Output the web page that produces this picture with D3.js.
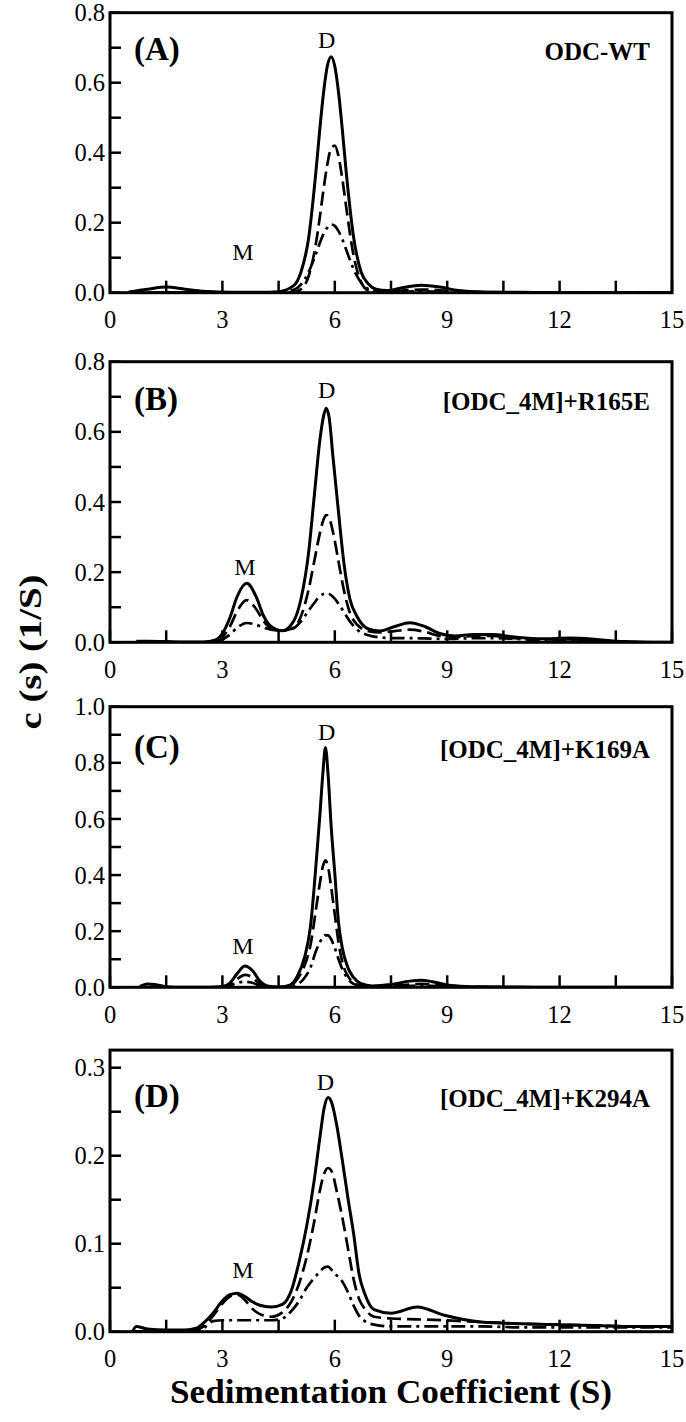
<!DOCTYPE html>
<html><head><meta charset="utf-8">
<script src="https://cdn.jsdelivr.net/npm/d3@7"></script>
<style>body{margin:0;background:#fff} svg{display:block}</style>
</head><body>
<svg id="chart" width="686" height="1422"></svg>
<script>
// ---------- data ----------
const panelLetters = ["(A)", "(B)", "(C)", "(D)"];
const panelNames = ["ODC-WT", "[ODC_4M]+R165E", "[ODC_4M]+K169A", "[ODC_4M]+K294A"];
const yMaxes = [0.8, 0.8, 1.0, 0.32];
const yTickLabelsA = [0, 0.2, 0.4, 0.6, 0.8];
const yTickLabelsC = [0, 0.2, 0.4, 0.6, 0.8, 1.0];
const yTickLabelsD = [0, 0.1, 0.2, 0.3];
const yMinorA = [0.1, 0.3, 0.5, 0.7];
const yMinorC = [0.1, 0.3, 0.5, 0.7, 0.9];
const yMinorD = [0.05, 0.15, 0.25];
const xTickLabels = [0, 3, 6, 9, 12, 15];
const xMinorTicks = [1.5, 4.5, 7.5, 10.5, 13.5];
// peak annotations: [x, y] per panel
const dimerLabelPos = [[5.78, 0.699], [5.78, 0.697], [5.78, 0.881], [5.75, 0.275]];
const monomerLabelPos = [[3.55, 0.093], [3.6, 0.192], [3.55, 0.119], [3.55, 0.061]];

// Panel A
const sA = [0.5,1.0,1.5,2.0,2.5,3.0,3.5,4.0,4.5,4.9,5.1,5.3,5.5,5.6,5.7,5.8,5.9,6.0,6.1,6.2,6.3,6.5,6.7,6.9,7.1,7.4,7.8,8.3,8.8,9.3,10,11,12,13,14,15];
const solidA   = [0.002,0.01,0.016,0.01,0.004,0.002,0.001,0.001,0.003, 0.02,0.06,0.155,0.35, 0.467,0.572,0.647,0.674,0.647,0.572,0.467,0.35, 0.16,0.06,0.025,0.01, 0.006,0.014,0.021,0.016,0.006, 0.002,0.001,0,0,0,0];
const dashedA  = [0,0,0,0,0,0,0,0,0, 0.002,0.01,0.047,0.143, 0.216,0.296,0.366,0.412,0.420,0.389,0.326,0.248, 0.107,0.031,0.006,0.002, 0.003,0.006,0.009,0.007,0.003, 0.001,0,0,0,0,0];
const dashdotA = [0,0,0,0,0,0,0,0,0.001, 0.008,0.024,0.059,0.112, 0.142,0.168,0.186,0.195,0.191,0.176,0.153,0.124, 0.068,0.029,0.010,0.003, 0.002,0.003,0.004,0.003,0.002, 0.001,0,0,0,0,0];

// Panel B
const sB = [0.7,1.0,1.5,2.0,2.5, 2.8,3.0,3.2,3.4,3.65, 3.9,4.1,4.3,4.6, 4.9,5.1,5.3,5.45, 5.6,5.7,5.77,5.85,5.95, 6.1,6.25,6.4,6.6,6.9, 7.2,7.6,8.0,8.4,8.8, 9.2,9.7,10.2,10.8,11.5, 12.3,13,13.7,14.5,15];
const solidB   = [0.003,0.003,0.002,0.001,0.001, 0.006,0.025,0.07,0.132,0.168, 0.13,0.075,0.045,0.033, 0.06,0.125,0.255,0.415, 0.575,0.645,0.667,0.64,0.53, 0.37,0.22,0.125,0.072,0.038, 0.032,0.045,0.056,0.045,0.025, 0.018,0.022,0.022,0.015,0.01, 0.012,0.008,0.002,0,0];
const dashedB  = [0,0,0,0,0, 0.003,0.015,0.045,0.09,0.12, 0.095,0.06,0.04,0.033, 0.042,0.075,0.15,0.23, 0.31,0.35,0.363,0.355,0.315, 0.23,0.145,0.085,0.05,0.032, 0.028,0.032,0.036,0.03,0.018, 0.015,0.018,0.018,0.012,0.008, 0.008,0.005,0.001,0,0];
const dashdotB = [0,0,0,0,0, 0.002,0.008,0.022,0.042,0.055, 0.05,0.042,0.036,0.033, 0.04,0.06,0.09,0.112, 0.132,0.138,0.14,0.138,0.13, 0.11,0.085,0.06,0.036,0.02, 0.014,0.012,0.012,0.011,0.01, 0.01,0.012,0.012,0.01,0.006, 0.006,0.004,0.001,0,0];

// Panel C
const sC = [0.8,1.0,1.2,1.5,2.0, 2.5,2.8,3.0,3.2,3.4, 3.6,3.8,4.0,4.2,4.5, 4.8,5.0,5.2,5.35,5.5, 5.6,5.68,5.75,5.82,5.9, 6.0,6.1,6.2,6.35,6.5, 6.7,7.0,7.5,8.0,8.3, 8.6,9.0,9.5,10,11, 12,13,14,15];
const solidC   = [0.003,0.012,0.01,0.002,0, 0,0.001,0.003,0.015,0.05, 0.076,0.06,0.022,0.005,0.001, 0.008,0.04,0.11,0.216,0.44, 0.61,0.76,0.855,0.76,0.58, 0.406,0.23,0.14,0.07,0.035, 0.013,0.005,0.01,0.022,0.025, 0.02,0.008,0.003,0.002,0.001, 0,0,0,0];
const dashedC  = [0,0,0,0,0, 0,0,0.001,0.008,0.03, 0.044,0.035,0.012,0.002,0, 0.004,0.03,0.08,0.15,0.28, 0.37,0.43,0.452,0.43,0.36, 0.26,0.16,0.09,0.04,0.018, 0.006,0.003,0.005,0.01,0.012, 0.01,0.005,0.002,0.001,0, 0,0,0,0];
const dashdotC = [0,0,0,0,0, 0,0,0.001,0.006,0.016, 0.02,0.016,0.006,0.001,0, 0.002,0.01,0.035,0.07,0.13, 0.16,0.178,0.186,0.185,0.172, 0.14,0.10,0.065,0.03,0.012, 0.004,0.002,0.003,0.005,0.006, 0.005,0.003,0.001,0,0, 0,0,0,0];

// Panel D
const sD = [0.6,0.7,1.0,1.5,2.0, 2.3,2.5,2.75,3.0,3.2, 3.4,3.6,3.8,4.0,4.3, 4.6,4.85,5.05,5.25,5.45, 5.6,5.72,5.82,5.92,6.05, 6.2,6.35,6.5,6.65,6.8, 7.05,7.5,8.2,8.9,9.9, 11,12,13,14,15];
const solidD   = [0,0.006,0.003,0.002,0.002, 0.004,0.01,0.021,0.035,0.042, 0.0436,0.04,0.034,0.03,0.028, 0.031,0.048,0.08,0.12,0.172, 0.22,0.255,0.266,0.26,0.235, 0.195,0.152,0.112,0.065,0.043, 0.025,0.021,0.028,0.019,0.011, 0.009,0.008,0.007,0.006,0.006];
const dashedD  = [0,0,0,0,0, 0.002,0.006,0.018,0.032,0.04, 0.042,0.036,0.026,0.02,0.017, 0.022,0.035,0.055,0.085,0.125, 0.16,0.18,0.186,0.182,0.16, 0.13,0.095,0.06,0.037,0.026, 0.017,0.015,0.014,0.013,0.011, 0.009,0.008,0.007,0.006,0.006];
const dashdotD = [0,0,0,0,0, 0,0.004,0.012,0.013,0.013, 0.013,0.013,0.013,0.013,0.013, 0.015,0.024,0.035,0.05,0.061, 0.068,0.073,0.074,0.07,0.064, 0.057,0.045,0.03,0.018,0.012, 0.008,0.006,0.006,0.006,0.006, 0.005,0.005,0.005,0.005,0.005];

const xTitle = "Sedimentation Coefficient (S)";
const yTitle = "c (s) (1/S)";

// ---------- layout ----------
const left = 110, right = 672;
const panelTops = [12.7, 361.7, 706.7, 1050.1];
const panelBottoms = [292.7, 642.3, 987.3, 1331.7];
const nameBaselines = [60, 410, 758, 1107];

const panels = [
  {s: sA, series: [solidA, dashedA, dashdotA], ticks: yTickLabelsA, minor: yMinorA},
  {s: sB, series: [solidB, dashedB, dashdotB], ticks: yTickLabelsA, minor: yMinorA},
  {s: sC, series: [solidC, dashedC, dashdotC], ticks: yTickLabelsC, minor: yMinorC},
  {s: sD, series: [solidD, dashedD, dashdotD], ticks: yTickLabelsD, minor: yMinorD}
];
const dashes = [null, "14,6", "14,5,3,5"];
const serif = "'Liberation Serif', 'Times New Roman', serif";

const svg = d3.select("#chart");
const x = d3.scaleLinear().domain([0, 15]).range([left, right]);

panels.forEach((p, i) => {
  const y = d3.scaleLinear().domain([0, yMaxes[i]]).range([panelBottoms[i], panelTops[i]]);
  const g = svg.append("g");
  const clipId = "clip" + i;
  svg.append("clipPath").attr("id", clipId).append("rect")
    .attr("x", left).attr("y", panelTops[i]).attr("width", right - left).attr("height", panelBottoms[i] - panelTops[i]);

  const line = d3.line().x(d => x(d[0])).y(d => y(d[1])).curve(d3.curveMonotoneX);
  p.series.forEach((vals, k) => {
    const pts = p.s.map((sv, j) => [sv, vals[j]]);
    g.append("path").attr("d", line(pts)).attr("fill", "none").attr("stroke", "#000")
      .attr("stroke-width", k === 0 ? 3 : 2.7)
      .attr("stroke-dasharray", dashes[k]).attr("clip-path", `url(#${clipId})`);
  });

  // y ticks (inward)
  const yAll = p.ticks.concat(p.minor);
  g.selectAll(".yt").data(yAll).enter().append("line")
    .attr("x1", left).attr("x2", left + 11).attr("y1", d => y(d)).attr("y2", d => y(d))
    .attr("stroke", "#000").attr("stroke-width", 2.5);
  g.selectAll(".yl").data(p.ticks).enter().append("text")
    .attr("x", left - 5).attr("y", d => y(d)).attr("dy", "0.35em")
    .attr("text-anchor", "end").attr("font-family", serif).attr("font-size", 24.5)
    .text(d => d3.format(".1f")(d));
  // x ticks
  const xAll = xTickLabels.concat(xMinorTicks);
  g.selectAll(".xt").data(xAll).enter().append("line")
    .attr("x1", d => x(d)).attr("x2", d => x(d)).attr("y1", panelBottoms[i]).attr("y2", panelBottoms[i] - 12)
    .attr("stroke", "#000").attr("stroke-width", 2.5);
  g.selectAll(".xl").data(xTickLabels).enter().append("text")
    .attr("x", d => x(d)).attr("y", panelBottoms[i] + 27).attr("dy", "0.35em")
    .attr("text-anchor", "middle").attr("font-family", serif).attr("font-size", 24.5)
    .text(d => d);

  // frame
  g.append("rect").attr("x", left).attr("y", panelTops[i]).attr("width", right - left)
    .attr("height", panelBottoms[i] - panelTops[i]).attr("fill", "none").attr("stroke", "#000").attr("stroke-width", 3);

  // labels
  g.append("text").attr("x", 134).attr("y", nameBaselines[i]).attr("font-family", serif)
    .attr("font-weight", "bold").attr("font-size", 33).text(panelLetters[i]);
  g.append("text").attr("x", 650).attr("y", nameBaselines[i]).attr("text-anchor", "end").attr("font-family", serif)
    .attr("font-weight", "bold").attr("font-size", 25).text(panelNames[i]);
  g.append("text").attr("x", x(dimerLabelPos[i][0])).attr("y", y(dimerLabelPos[i][1]))
    .attr("text-anchor", "middle").attr("font-family", serif).attr("font-size", 24).text("D");
  g.append("text").attr("x", x(monomerLabelPos[i][0])).attr("y", y(monomerLabelPos[i][1]))
    .attr("text-anchor", "middle").attr("font-family", serif).attr("font-size", 24).text("M");
});

svg.append("text").attr("x", (left + right) / 2).attr("y", 1403).attr("text-anchor", "middle")
  .attr("font-family", serif).attr("font-weight", "bold").attr("font-size", 34)
  .attr("textLength", 442).attr("lengthAdjust", "spacingAndGlyphs").text(xTitle);
svg.append("text").attr("transform", "translate(41,652) rotate(-90)").attr("text-anchor", "middle")
  .attr("font-family", serif).attr("font-weight", "bold").attr("font-size", 32)
  .attr("textLength", 155).attr("lengthAdjust", "spacingAndGlyphs").text(yTitle);
</script>
</body></html>
